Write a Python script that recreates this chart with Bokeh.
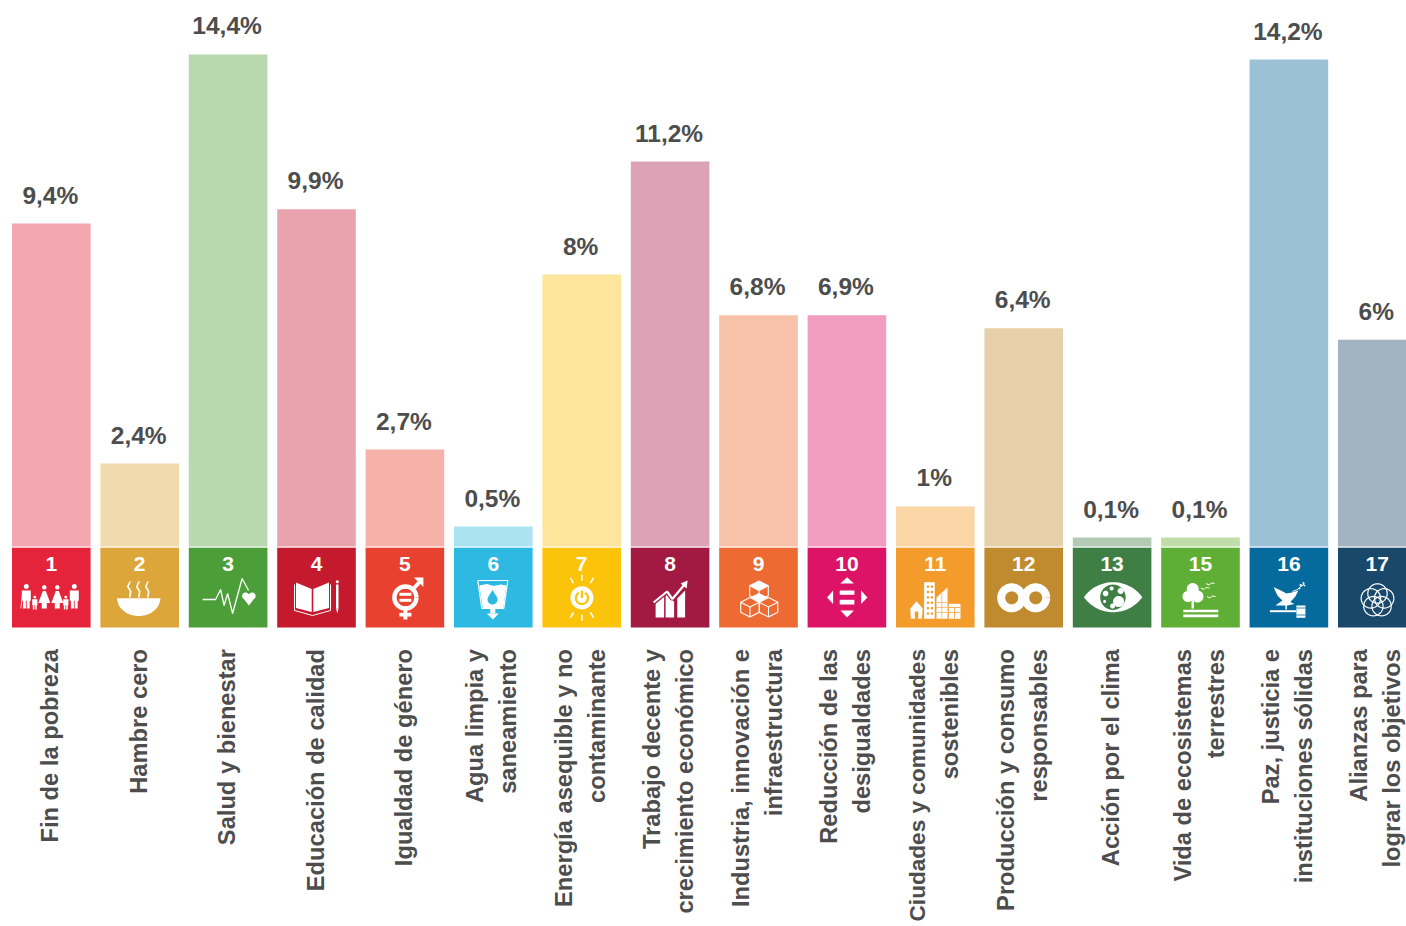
import math
from bokeh.plotting import figure
from bokeh.models import Range1d, ColumnDataSource
from bokeh.core.properties import value
from bokeh.embed import file_html
from bokeh.resources import INLINE

goal_numbers = ["1", "2", "3", "4", "5", "6", "7", "8", "9", "10", "11", "12", "13", "15", "16", "17"]
goal_names = [
    "Fin de la pobreza", "Hambre cero", "Salud y bienestar", "Educación de calidad",
    "Igualdad de género", "Agua limpia y\nsaneamiento", "Energía asequible y no\ncontaminante",
    "Trabajo decente y\ncrecimiento económico", "Industria, innovación e\ninfraestructura",
    "Reducción de las\ndesigualdades", "Ciudades y comunidades\nsostenibles",
    "Producción y consumo\nresponsables", "Acción por el clima", "Vida de ecosistemas\nterrestres",
    "Paz, justicia e\ninstituciones sólidas", "Alianzas para\nlograr los objetivos",
]
pct_labels = ["9,4%", "2,4%", "14,4%", "9,9%", "2,7%", "0,5%", "8%", "11,2%", "6,8%", "6,9%",
              "1%", "6,4%", "0,1%", "0,1%", "14,2%", "6%"]
bar_heights = [9.46, 2.45, 14.4, 9.88, 2.86, 0.61, 7.97, 11.27, 6.78, 6.78, 1.2, 6.4, 0.29, 0.29, 14.25, 6.07]
bar_colors = ["#F4A6B1", "#F1DAAE", "#B8D8AE", "#E9A3AD", "#F6B2A9", "#ABE3F2", "#FDE69B", "#DBA3B5",
              "#F7C2A9", "#F09DC0", "#FAD5A6", "#E6D0A9", "#B3CBB5", "#C1DDAA", "#9AC1D6", "#A2B3C2"]
tile_colors = ["#E5243B", "#DDA63A", "#4C9F38", "#C5192D", "#E8412F", "#2DB9E2", "#FCC30B", "#A21942",
               "#ED6A33", "#DD1367", "#F39C2B", "#BF8B2E", "#3F7E44", "#5FAE35", "#056A9D", "#19486A"]
TEXT = "#4D4D4D"
W = "#FFFFFF"

PX, PY = 88.4, 34.24           # pixels per category / per percent unit
idx = list(range(len(goal_names)))

p = figure(width=1406, height=926, output_backend="svg", toolbar_location=None,
           x_axis_location=None, y_axis_location=None, min_border=0,
           x_range=Range1d(-50.8 / PX, (1406 - 50.8) / PX),
           y_range=Range1d(-(926 - 547) / PY, 547 / PY))
p.grid.visible = False
p.outline_line_color = None

bar_w = 78.6 / PX
tile_h = 80 / PY
src = ColumnDataSource(dict(x=idx, top=bar_heights, color=bar_colors, tile=tile_colors,
                            num=goal_numbers, pct=pct_labels))
p.vbar(x="x", top="top", bottom=0, width=bar_w, fill_color="color", line_color=None, source=src)
p.vbar(x="x", top=0, bottom=-tile_h, width=bar_w, fill_color="tile", line_color=None, source=src)
p.vbar(x="x", top=0.03, bottom=0, width=bar_w, fill_color=W, line_color=None, source=src)

p.text(x="x", y="top", text="pct", source=src, x_offset=-1, y_offset=-28.5, text_align="center",
       text_baseline="middle", text_font=value("Liberation Sans"), text_font_style="bold",
       text_font_size="24.5px", text_color=TEXT)
p.text(x="x", y=-16 / PY, text="num", source=src, text_align="center", text_baseline="middle",
       text_font=value("Liberation Sans"), text_font_style="bold", text_font_size="21px", text_color=W)

# category labels, rotated, right end on a common line under the tiles
label_y = -(648.5 - 547) / PY
for i, name in enumerate(goal_names):
    lines = name.split("\n")
    offs = [-1] if len(lines) == 1 else [-18, 15]
    for line_text, off in zip(lines, offs):
        size = "22.6px" if line_text.startswith("Ciudades") else "23.7px"
        p.text(x=[i], y=[label_y], text=[line_text], angle=math.pi / 2, x_offset=off,
               text_align="right", text_baseline="middle",
               text_font=value("Liberation Sans"), text_font_style="bold",
               text_font_size=size, text_color=TEXT)


# ---- pictograms: tile-local pixels ----
def X(i, lx):
    return i + (lx - 39.5) / PX

def Y(ly):
    return -ly / PY

def poly(i, pts, color=W):
    p.patch([X(i, a) for a, _ in pts], [Y(b) for _, b in pts], fill_color=color, line_color=None)

def rect(i, x0, y0, x1, y1, color=W):
    poly(i, [(x0, y0), (x1, y0), (x1, y1), (x0, y1)], color)

def ln(i, pts, width=1.5, color=W):
    p.line([X(i, a) for a, _ in pts], [Y(b) for _, b in pts], line_color=color, line_width=width)

def circ_pts(cx, cy, r, a0=0, a1=360, n=40, ry=None):
    ry = r if ry is None else ry
    return [(cx + r * math.cos(math.radians(a0 + (a1 - a0) * k / n)),
             cy + ry * math.sin(math.radians(a0 + (a1 - a0) * k / n))) for k in range(n + 1)]

def disc(i, cx, cy, r, color=W):
    poly(i, circ_pts(cx, cy, r), color)

def ring(i, cx, cy, r, width, color=W):
    ln(i, circ_pts(cx, cy, r), width, color)

# 1 family
for lx, top, h, w, dress in [(14.5, 38, 23, 4.5, False), (23, 49, 13, 2.6, False), (32.5, 39, 22, 4, True),
                             (45.5, 39, 22, 4, True), (54, 49, 13, 2.6, False), (62.5, 38, 23, 4.5, False)]:
    r = w * 0.55
    disc(0, lx, top + r * 0.4, r)
    by = top + 2 * r
    if dress:
        poly(0, [(lx - 1.5, by), (lx + 1.5, by), (lx + 6, by + h * 0.55), (lx + 2.5, by + h * 0.55),
                 (lx + 2.5, top + h), (lx - 2.5, top + h), (lx - 2.5, by + h * 0.55), (lx - 6, by + h * 0.55)])
    else:
        rect(0, lx - w, by, lx + w, by + h * 0.45)
        rect(0, lx - w * 0.75, by + h * 0.3, lx - 0.4, top + h)
        rect(0, lx + 0.4, by + h * 0.3, lx + w * 0.75, top + h)
ln(0, [(9, 61), (11, 45)], 0.8)

# 2 bowl with steam
poly(1, circ_pts(38.5, 51, 21.5, 0, 180, ry=17.5) + [(38.5, 51)])
rect(1, 16.8, 51, 60.2, 52)
for lx in (29, 38, 47):
    ln(1, [(lx + 1, 34), (lx - 1.5, 39), (lx + 1.5, 44), (lx + 0.5, 50)], 1.6)

# 3 heartbeat and heart
ln(2, [(14, 52), (27, 52), (32, 42), (35.5, 58), (39, 46), (44, 66), (53.5, 31), (60, 43)], 1.3)
poly(2, circ_pts(57, 48.5, 3.5, 120, 330) + circ_pts(63.5, 48.5, 3.5, 210, 420) + [(60.3, 58)])

# 4 book and pencil
poly(3, [(19, 35), (34.7, 41.5), (34.7, 64.5), (19, 60.5)])
poly(3, [(36.3, 41.5), (52, 35), (52, 60.5), (36.3, 64.5)])
ln(3, [(17.5, 37), (17.5, 63), (35.5, 68), (53.5, 63), (53.5, 37)], 1)
rect(3, 59, 37, 61.5, 61)
poly(3, [(59, 61), (61.5, 61), (60.3, 66)])
disc(3, 60.3, 34.3, 1.5)

# 5 gender symbol
ring(4, 40, 50, 11, 4.5)
rect(4, 34, 45.3, 46, 48.3)
rect(4, 34, 51.3, 46, 54.3)
rect(4, 38, 61, 42, 72)
rect(4, 34, 65.3, 46, 69)
ln(4, [(47, 42.5), (55, 33.5)], 3.8)
poly(4, [(48.5, 30), (58, 30), (58, 39.5)])

# 6 glass with drop
ln(5, [(24, 33), (54, 33), (50, 61), (28, 61), (24, 33)], 1.2)
poly(5, [(25.5, 38), (33, 36.5), (40, 38.5), (47, 37), (52.5, 38), (49.5, 61), (29, 61)])
poly(5, circ_pts(38.7, 52, 5, -30, 210) + [(38.7, 42.5)], tile_colors[5])
rect(5, 36.5, 61, 41.5, 66)
poly(5, [(33, 66), (45, 66), (39, 72)])

# 7 sun with power symbol
disc(6, 39.7, 50.3, 11.5)
ln(6, circ_pts(39.7, 50.5, 6, -60, 240), 2.2, tile_colors[6])
rect(6, 38.6, 43, 40.8, 50.5, tile_colors[6])
for a in (-90, -60, -120, 60, 90, 120):
    ca, sa = math.cos(math.radians(a)), math.sin(math.radians(a))
    ln(6, [(39.7 + 17 * ca, 50.3 + 17 * sa), (39.7 + 23 * ca, 50.3 + 23 * sa)], 1.6)

# 8 growth chart
poly(7, [(25, 56), (33.5, 49), (33.5, 70), (25, 70)])
poly(7, [(35, 47), (43.5, 54), (43.5, 70), (35, 70)])
poly(7, [(46.7, 51), (54.5, 43), (54.5, 70), (46.7, 70)])
ln(7, [(23, 55), (36.5, 44), (41.7, 51.5), (54, 37)], 4.5, tile_colors[7])
ln(7, [(23, 55), (36.5, 44), (41.7, 51.5), (54, 37)], 2.2)
poly(7, [(50, 36), (57, 33), (56, 41)])

# 9 cubes
def cube(i, cx, top, hw=9.3, qh=4.8, side=10):
    hexa = [(cx, top), (cx + hw, top + qh), (cx + hw, top + qh + side), (cx, top + 2 * qh + side),
            (cx - hw, top + qh + side), (cx - hw, top + qh), (cx, top)]
    ln(i, hexa, 1.1)
    ln(i, [(cx - hw, top + qh), (cx, top + 2 * qh), (cx + hw, top + qh)], 1.1)
    ln(i, [(cx, top + 2 * qh), (cx, top + 2 * qh + side)], 1.1)
poly(8, [(40, 33.5), (49.3, 38.3), (40, 43), (30.7, 38.3)])
cube(8, 40, 33.5)
cube(8, 31, 50)
cube(8, 49.5, 50)
poly(8, [(40, 45.5), (49, 50), (40, 55), (31, 50)])

# 10 arrows
poly(9, [(39.7, 29.7), (46.5, 36), (33, 36)])
poly(9, [(39.7, 70), (46.5, 63), (33, 63)])
poly(9, [(19.7, 50), (25.7, 43), (25.7, 56.5)])
poly(9, [(60, 50), (53.7, 43), (53.7, 56.5)])
rect(9, 32.3, 43, 47, 47.3)
rect(9, 32.3, 52.3, 47, 57)

# 11 city
poly(10, [(20.7, 53.7), (27, 61), (26, 71.3), (15, 71.3), (14.5, 61)])
rect(10, 19, 64, 22.5, 71.3, tile_colors[10])
rect(10, 28.3, 34.7, 39, 71.3)
poly(10, [(40.7, 50), (51.7, 40), (51.7, 71.3), (40.7, 71.3)])
rect(10, 53, 56.3, 64.7, 71.3)
for gy in range(0, 6):
    for gx in (31, 35):
        rect(10, gx, 38 + gy * 5.4, gx + 2.2, 40.2 + gy * 5.4, tile_colors[10])
for gy in (55, 60, 65):
    ln(10, [(41, gy), (51.5, gy)], 0.6, tile_colors[10])
ln(10, [(46, 46), (46, 71)], 0.6, tile_colors[10])
ln(10, [(53, 60), (64.7, 60)], 0.8, tile_colors[10])
ln(10, [(53, 65), (64.7, 65)], 0.8, tile_colors[10])
ln(10, [(58.8, 60), (58.8, 71)], 0.8, tile_colors[10])

# 12 infinity
ring(11, 27.5, 50.3, 10.5, 8)
ring(11, 51.5, 50.3, 10.5, 8)

# 13 eye with globe
poly(12, circ_pts(40.5, 70.6, 35.9, 215.6, 324.4) + circ_pts(40.5, 28.8, 35.9, 35.6, 144.4))
disc(12, 40.3, 49.7, 12.7, tile_colors[12])
disc(12, 46, 54, 5.5)
disc(12, 40, 58.5, 2.5)
disc(12, 33, 46, 2.8)
disc(12, 39, 41, 2)
disc(12, 48, 43.5, 3)
disc(12, 32, 54, 1.5)

# 15 tree, birds and ground
disc(13, 31.7, 41.5, 6)
disc(13, 27, 49, 5.5)
disc(13, 36.5, 49, 6)
rect(13, 30.5, 52, 33, 61)
rect(13, 22.3, 62.3, 57.3, 64.7)
rect(13, 22.3, 67, 57.3, 69.7)
for bx, by in [(49, 36.5), (44, 41), (50, 49.5)]:
    ln(13, [(bx - 4, by - 0.5), (bx - 1, by + 1), (bx, by), (bx + 1.5, by - 1), (bx + 4.5, by - 0.5)], 1)

# 16 dove and gavel
poly(14, [(24.3, 39.7), (31.5, 43), (37, 46), (42.5, 45), (49, 43), (46, 49), (41, 54.5), (45, 56.5),
          (38, 58), (26, 58), (33, 53), (28, 48)])
ln(14, [(43, 44), (48, 42), (55, 36)], 1)
for lx, ly in [(50, 41), (52, 38), (54, 35.5), (51, 37.5), (55, 38)]:
    disc(14, lx, ly, 0.9)
rect(14, 36, 57, 37.5, 62)
rect(14, 20.5, 62.7, 47, 64.7)
rect(14, 47, 58, 56, 70.3)
for gy in (60.5, 67.5):
    ln(14, [(47, gy), (56, gy)], 0.8, tile_colors[14])

# 17 interlaced rings
for k in range(5):
    a = math.radians(-90 + 72 * k)
    ring(15, 39.7 + 7 * math.cos(a), 53 + 7 * math.sin(a), 9.7, 1.2)

open("out.html", "w").write(file_html(p, INLINE))
